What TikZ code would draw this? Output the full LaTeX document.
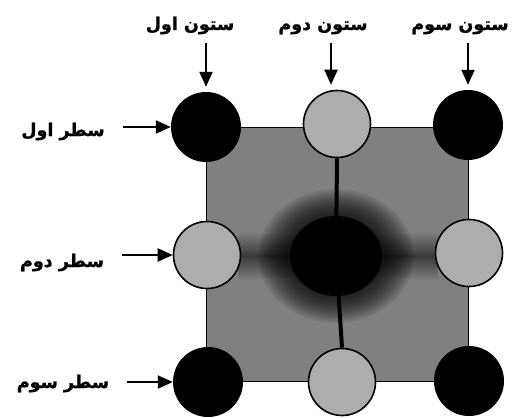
\documentclass[tikz,border=0pt]{standalone}
\usepackage{fontspec}
\newfontfamily\fa[Script=Arabic,BoldFeatures={FakeBold=1.2}]{DejaVu Sans}
\TeXXeTstate=1
\usetikzlibrary{arrows.meta,fadings}
\tikzfading[name=bandfade, top color=transparent!100, bottom color=transparent!100, middle color=transparent!0]
\begin{document}
\begin{tikzpicture}[x=1pt,y=-1pt,
  darkball/.style={circle,fill=black,inner sep=0pt,minimum size=70pt},
  lightball/.style={circle,fill=black!32,draw=black,line width=1.6pt,inner sep=0pt,minimum size=67pt},
  lab/.style={font=\fa\bfseries\fontsize{17.5}{19}\selectfont,inner sep=0pt,anchor=base},
  arr/.style={line width=2pt,-{Triangle[length=15pt,width=13pt]}}]
\useasboundingbox (0,0) rectangle (526,417);
% square
\node[draw=black,line width=1pt,fill=black!50,minimum width=262pt,minimum height=254pt,inner sep=0pt] (sq) at (337.5,254) {};
\coordinate (C) at (336,256);
% horizontal dark band
\fill[black,fill opacity=0.55,path fading=bandfade] (238,232) rectangle (438,280);
% central blob: solid core with a soft rim
\foreach \k in {1,...,18}
  \fill[black,fill opacity=0.07] (C) ellipse [x radius={(42+2*\k)*1pt}, y radius={(36+1.7*\k)*1pt}];
\fill[black] (C) ellipse [x radius=46pt, y radius=40pt];
% middle circles and bars
\node[lightball] (TM) at (337,124) {};
\node[lightball] (BM) at (342,382) {};
\draw[line width=4pt] (TM.south) -- (C) -- (BM.north);
\node[lightball] (ML) at (207,255) {};
\node[lightball] (MR) at (469,253) {};
\node[darkball] (TL) at (206,127) {};
\node[darkball] (TR) at (468,125) {};
\node[darkball] (BL) at (208,382) {};
\node[darkball] (BR) at (469,381) {};
% column labels
\node[lab] (c1) at (190,30) {\beginR ستون اول\endR};
\node[lab] (c2) at (323,30) {\beginR ستون دوم\endR};
\node[lab] (c3) at (460,30) {\beginR ستون سوم\endR};
% row labels
\node[lab] (r1) at (63,136) {\beginR سطر اول\endR};
\node[lab] (r2) at (62,267) {\beginR سطر دوم\endR};
\node[lab] (r3) at (63,388) {\beginR سطر سوم\endR};
% arrows
\coordinate (a1) at (206,43);
\coordinate (a2) at (331,43);
\coordinate (a3) at (468,43);
\draw[arr,shorten >=5pt] (a1) -- (TL.north);
\draw[arr,shorten >=5pt] (a2) -- (a2 |- TM.north);
\draw[arr,shorten >=5pt] (a3) -- (TR.north);
\draw[arr,shorten <=18pt] (TL.west -| r1.east) -- (TL.west);
\draw[arr,shorten <=18pt] (ML.west -| r2.east) -- (ML.west);
\draw[arr,shorten <=18pt] (BL.west -| r3.east) -- (BL.west);
\end{tikzpicture}
\end{document}
